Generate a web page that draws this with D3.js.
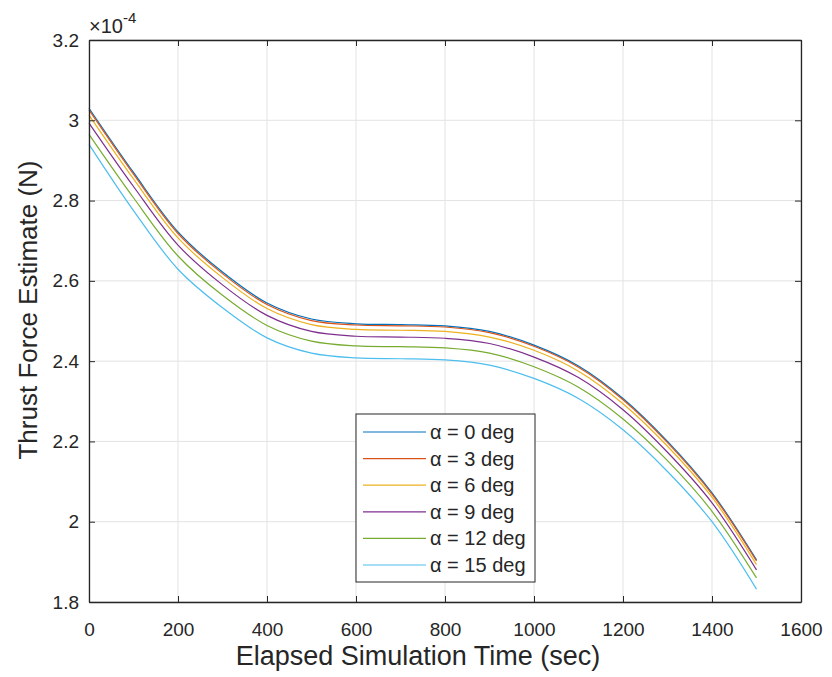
<!DOCTYPE html>
<html>
<head>
<meta charset="utf-8">
<script src="https://cdn.jsdelivr.net/npm/d3@7"></script>
<style>
  body { margin: 0; background: #fff; }
  text { font-family: "Liberation Sans", Arial, sans-serif; fill: #262626; }
</style>
</head>
<body>
<svg id="chart" width="832" height="677"></svg>
<script>
// elapsed time (sec)
var times = [0, 100, 200, 300, 400, 500, 600, 700, 800, 900, 1000, 1100, 1200, 1300, 1400, 1500];

// thrust estimates, units of 1e-4 N
var alpha0  = [3.030, 2.870, 2.722, 2.622, 2.545, 2.505, 2.493, 2.491, 2.488, 2.474, 2.440, 2.388, 2.307, 2.200, 2.072, 1.905];
var alpha3  = [3.026, 2.866, 2.718, 2.618, 2.541, 2.501, 2.490, 2.488, 2.485, 2.471, 2.437, 2.385, 2.304, 2.197, 2.069, 1.902];
var alpha6  = [3.013, 2.854, 2.707, 2.608, 2.531, 2.491, 2.479, 2.477, 2.474, 2.460, 2.427, 2.375, 2.294, 2.188, 2.061, 1.893];
var alpha9  = [2.993, 2.835, 2.689, 2.590, 2.514, 2.474, 2.462, 2.460, 2.457, 2.444, 2.410, 2.359, 2.279, 2.173, 2.047, 1.880];
var alpha12 = [2.965, 2.807, 2.662, 2.564, 2.489, 2.450, 2.438, 2.436, 2.433, 2.420, 2.386, 2.335, 2.256, 2.152, 2.026, 1.860];
var alpha15 = [2.940, 2.775, 2.629, 2.533, 2.458, 2.420, 2.408, 2.406, 2.403, 2.390, 2.357, 2.307, 2.229, 2.125, 2.000, 1.832];

var seriesNames = ["\u03b1 = 0 deg", "\u03b1 = 3 deg", "\u03b1 = 6 deg", "\u03b1 = 9 deg", "\u03b1 = 12 deg", "\u03b1 = 15 deg"];
var seriesColors = ["#0072BD", "#D95319", "#EDB120", "#7E2F8E", "#77AC30", "#4DBEEE"];
var seriesValues = [alpha0, alpha3, alpha6, alpha9, alpha12, alpha15];

var xTicks = [0, 200, 400, 600, 800, 1000, 1200, 1400, 1600];
var yTicks = [1.8, 2, 2.2, 2.4, 2.6, 2.8, 3, 3.2];

var pLeft = 89, pRight = 801, pTop = 40, pBottom = 602;

var svg = d3.select("#chart");

var x = d3.scaleLinear().domain([0, 1600]).range([pLeft, pRight]);
var y = d3.scaleLinear().domain([1.8, 3.2]).range([pBottom, pTop]);

// grid
var grid = svg.append("g");
grid.selectAll("line.gx")
    .data(xTicks)
    .enter().append("line")
    .attr("x1", function(d){ return x(d); })
    .attr("x2", function(d){ return x(d); })
    .attr("y1", pTop).attr("y2", pBottom)
    .style("stroke", "#e3e3e3").style("stroke-width", 1);
grid.selectAll("line.gy")
    .data(yTicks)
    .enter().append("line")
    .attr("y1", function(d){ return y(d); })
    .attr("y2", function(d){ return y(d); })
    .attr("x1", pLeft).attr("x2", pRight)
    .style("stroke", "#e3e3e3").style("stroke-width", 1);

// lines
var line = d3.line()
    .x(function(d){ return x(d[0]); })
    .y(function(d){ return y(d[1]); })
    .curve(d3.curveCatmullRom);

seriesValues.forEach(function(vals, i){
    svg.append("path")
        .datum(times.map(function(t, j){ return [t, vals[j]]; }))
        .attr("d", line)
        .style("fill", "none")
        .style("stroke", seriesColors[i])
        .style("stroke-width", 1.2);
});

// axes
var fmt = function(d){ return d3.format("~g")(d); };
var axB = svg.append("g").attr("transform", "translate(0," + pBottom + ")")
    .call(d3.axisBottom(x).tickValues(xTicks).tickSizeInner(-6).tickSizeOuter(0).tickPadding(21).tickFormat(fmt));
var axT = svg.append("g").attr("transform", "translate(0," + pTop + ")")
    .call(d3.axisTop(x).tickValues(xTicks).tickSizeInner(-6).tickSizeOuter(0).tickFormat(""));
var axL = svg.append("g").attr("transform", "translate(" + pLeft + ",0)")
    .call(d3.axisLeft(y).tickValues(yTicks).tickSizeInner(-6).tickSizeOuter(0).tickPadding(10).tickFormat(fmt));
var axR = svg.append("g").attr("transform", "translate(" + pRight + ",0)")
    .call(d3.axisRight(y).tickValues(yTicks).tickSizeInner(-6).tickSizeOuter(0).tickFormat(""));

[axB, axT, axL, axR].forEach(function(a){
    a.selectAll("path.domain").style("stroke", "#262626").style("stroke-width", 1.3);
    a.selectAll(".tick line").style("stroke", "#262626");
    a.selectAll("text").style("font-size", "19px").style("font-family", "Liberation Sans, Arial, sans-serif").style("fill", "#262626");
});

// exponent label
var expo = svg.append("text").attr("x", 89).attr("y", 33).style("font-size", "20px");
expo.append("tspan").text("\u00d710");
expo.append("tspan").attr("dy", -10).style("font-size", "15px").text("-4");

// axis titles
svg.append("text")
    .attr("x", 418).attr("y", 665)
    .attr("text-anchor", "middle")
    .style("font-size", "27px")
    .text("Elapsed Simulation Time (sec)");
svg.append("text")
    .attr("transform", "translate(37,310) rotate(-90)")
    .attr("text-anchor", "middle")
    .style("font-size", "26px")
    .text("Thrust Force Estimate (N)");

// legend
var legend = svg.append("g").attr("transform", "translate(356,414)");
legend.append("rect")
    .attr("width", 179).attr("height", 168)
    .style("fill", "#fff").style("stroke", "#262626").style("stroke-width", 1);
var entry = legend.selectAll("g.entry")
    .data(seriesNames)
    .enter().append("g")
    .attr("transform", function(d, i){ return "translate(0," + (18 + i * 26.6) + ")"; });
entry.append("line")
    .attr("x1", 7).attr("x2", 70)
    .style("stroke", function(d, i){ return seriesColors[i]; })
    .style("stroke-width", 1.2);
entry.append("text")
    .attr("x", 74).attr("dy", "0.35em")
    .style("font-size", "20px")
    .text(function(d){ return d; });
</script>
</body>
</html>
